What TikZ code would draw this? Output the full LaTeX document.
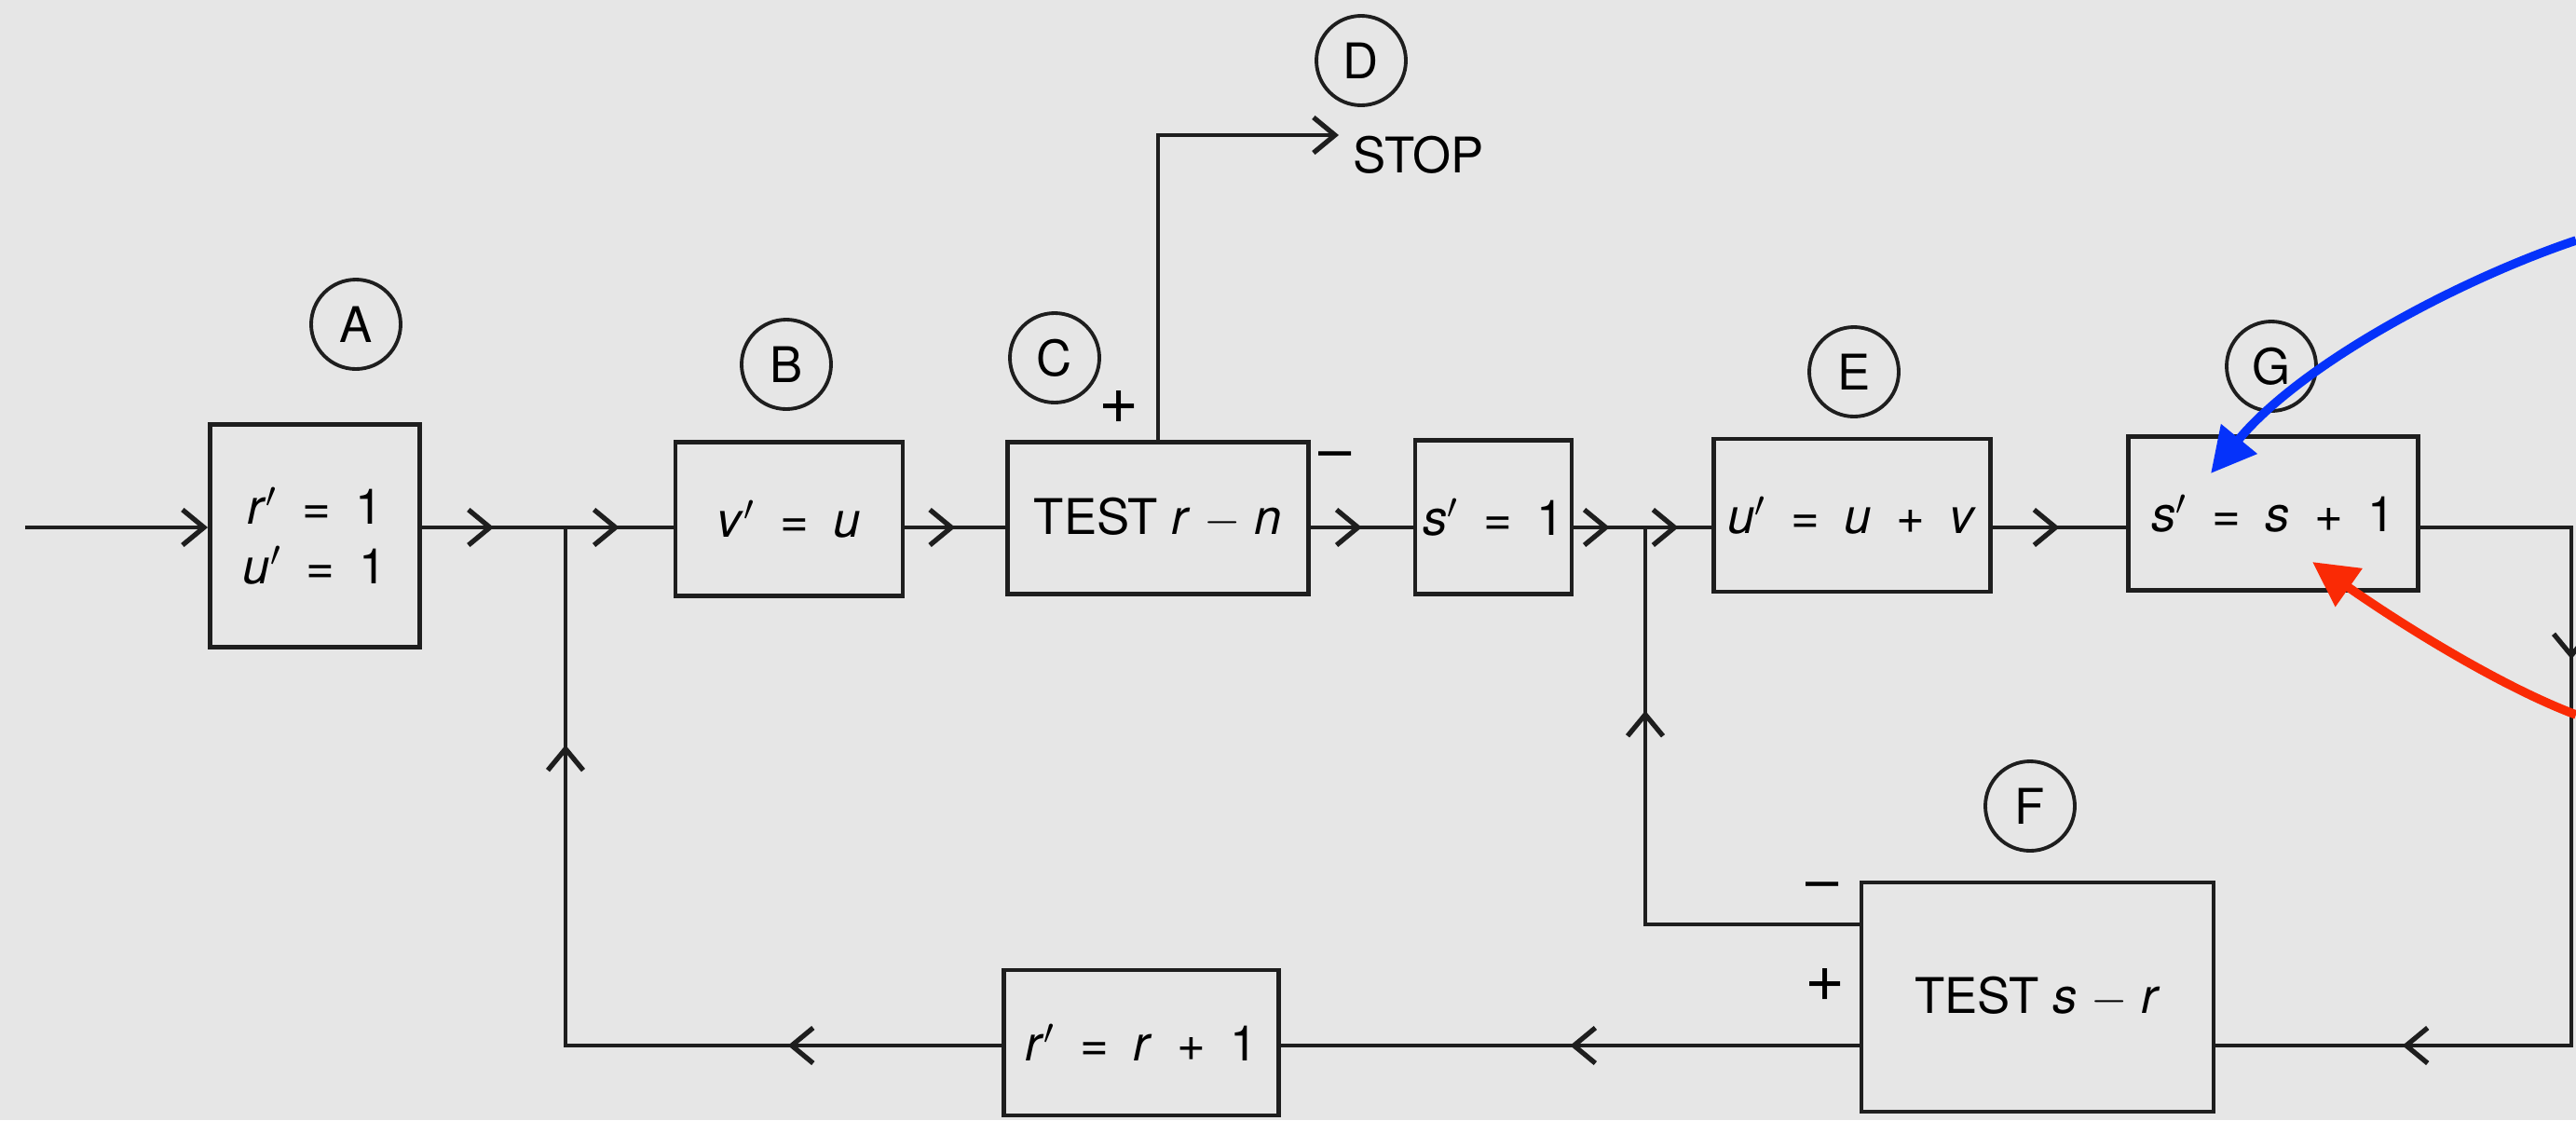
\documentclass[tikz,border=0pt]{standalone}
\usepackage{fontspec}
\setmainfont{TeX Gyre Heros}
\usepackage{xcolor}
\usetikzlibrary{arrows.meta}
\usetikzlibrary{decorations.markings, math}
\definecolor{paper}{RGB}{230, 230, 230}
\definecolor{ink}{RGB}{30, 30, 30}
\definecolor{myblue}{RGB}{5, 50, 250}
\definecolor{myred}{RGB}{250, 42, 5}
\newcommand{\eqs}{\enspace=\enspace}
\newcommand{\pls}{\enspace+\enspace}

\tikzset{
  chev/.tip={Straight Barb[length=2.3mm,width=3.8mm,line width=1.5pt]},
  box/.style={draw=ink, line width=1.4pt, inner sep=0pt},
  tag/.style={draw=ink, circle, line width=1.1pt, minimum size=9.6mm, inner sep=0pt},
  wire/.style={draw=ink, line width=1.3pt},
  sign/.style={font=\fontsize{21}{21}\selectfont, inner sep=0pt},
  dash sign/.style={font=\fontsize{18}{18}\selectfont, inner sep=0pt},
  flow/.style={postaction={decorate, decoration={markings, mark=at position #1 with {\arrow{chev}}}}},
  flow/.default=0.5,
  hint/.style={line width=2.7pt, -{Triangle[length=4.8mm,width=4.8mm]}}
}

\begin{document}
\begin{tikzpicture}[x=0.1mm, y=-0.1mm, font=\fontsize{15}{18}\selectfont]
\tikzmath{
\W=2765;
\H=1202;
\yl=566;
\yb=1122;
\ym=992;
}
\fill[paper] (0,0) rectangle (\W,\H);
\useasboundingbox (0,0) rectangle (\W,\H);

\coordinate (ml) at (0,\yl);
\coordinate (start) at (27,\yl);
\coordinate (jl) at (607,\yl);
\coordinate (jr) at (1766,\yl);
\coordinate (ne) at (2760,\yl);
\coordinate (se) at (2760,\yb);
\coordinate (sw) at (607,\yb);
\coordinate (fm) at (1766,\ym);
\coordinate (stp) at (1437,145);

% boxes
\node[box, minimum width=22.5mm, minimum height=23.9mm, align=center] (init) at (338,575)
  {\textit{r}$'$\eqs 1\\\textit{u}$'$\eqs 1};
\node[box, minimum width=24.4mm, minimum height=16.5mm] (vset) at (847,557) {\textit{v}$'$\eqs\textit{u}};
\node[box, minimum width=32.3mm, minimum height=16.3mm] (trn) at (1243,556) {TEST \textit{r} $-$ \textit{n}};
\node[box, minimum width=16.8mm, minimum height=16.5mm] (sone) at (1603,555) {\textit{s}$'$\eqs 1};
\node[box, minimum width=29.7mm, minimum height=16.4mm] (uset) at (1988,553) {\textit{u}$'$\eqs\textit{u}\pls\textit{v}};
\node[box, minimum width=31.1mm, minimum height=16.5mm] (sinc) at (2440,551) {\textit{s}$'$\eqs\textit{s}\pls 1};
\node[box, minimum width=37.8mm, minimum height=24.6mm] (tsr) at (2187,1070) {TEST \textit{s} $-$ \textit{r}};
\node[box, minimum width=29.5mm, minimum height=15.6mm] (rinc) at (1225,1119) {\textit{r}$'$\eqs\textit{r}\pls 1};

% circled letters
\node[tag] (ta) at (382,348) {A};
\node[tag] (tb) at (844,391) {B};
\node[tag] (tc) at (1132,384) {C};
\node[tag] (td) at (1461,65) {D};
\node[tag] (te) at (1990,399) {E};
\node[tag] (tf) at (2179,865) {F};
\node[tag] (tg) at (2438,393) {G};

\node[anchor=north west, inner sep=0pt] (stop) at (1452,145) {STOP};
\node[sign] (plusc) at (1201,437) {+};
\node[dash sign] (minusc) at (1433,495) {--};
\node[dash sign] (minusf) at (1956,957) {--};
\node[sign] (plusf) at (1959,1057) {+};

% main line
\draw[wire, -chev] (start) -- (init.west |- ml);
\draw[wire, flow] (init.east |- ml) -- (jl);
\draw[wire, flow] (jl) -- (vset.west |- ml);
\draw[wire, flow] (vset.east |- ml) -- (trn.west |- ml);
\draw[wire, flow] (trn.east |- ml) -- (sone.west |- ml);
\draw[wire, flow] (sone.east |- ml) -- (jr);
\draw[wire, flow] (jr) -- (uset.west |- ml);
\draw[wire, flow] (uset.east |- ml) -- (sinc.west |- ml);
\draw[wire, -chev] (trn.north) |- (stp);

% loops
\draw[wire, flow=0.276, flow=0.818] (sinc.east |- ml) -- (ne) -- (se) -- (tsr.east |- se);
\draw[wire, flow] (tsr.west |- se) -- (rinc.east |- se);
\draw[wire, flow=0.224, flow=0.772] (rinc.west |- se) -- (sw) -- (jl);
\draw[wire, flow=0.7] (tsr.west |- fm) -- (fm) -- (jr);

% pointers
\coordinate (bt) at (2765,258);
\coordinate (bh) at (2373,508);
\coordinate (rt) at (2765,767);
\coordinate (rh) at (2482,603);
\draw[hint, myblue] (bt) .. controls (2640,300) and (2470,390) .. (bh);
\draw[hint, myred] (rt) .. controls (2680,735) and (2570,665) .. (rh);
\end{tikzpicture}
\end{document}
